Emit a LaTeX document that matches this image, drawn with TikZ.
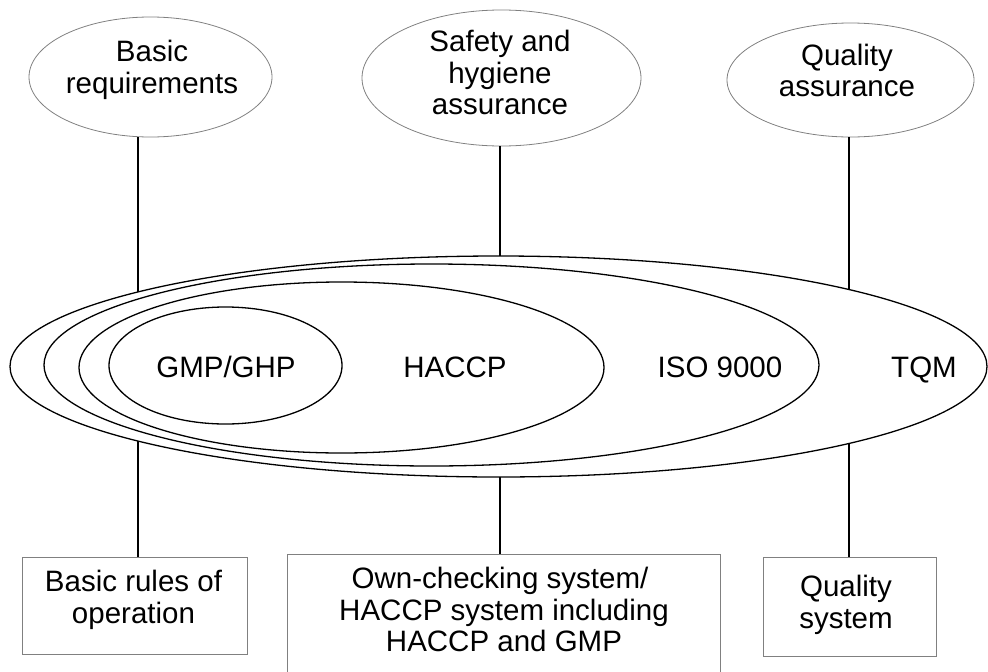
\documentclass[tikz,border=0pt]{standalone}
\usepackage{fontspec}
\setmainfont{Liberation Sans}
\usetikzlibrary{shapes.geometric}
\definecolor{bordergray}{HTML}{808080}
\tikzset{
  topell/.style={ellipse, draw=bordergray, line width=0.8pt, inner sep=0pt},
  bigell/.style={ellipse, draw=black, line width=1.3pt, inner sep=0pt},
  sbox/.style={rectangle, draw=bordergray, line width=0.8pt, inner sep=0pt},
  lbl/.style={font=\fontsize{29.5}{31.5}\selectfont, align=center, inner sep=0pt, text=black},
  conn/.style={line width=1.2pt, black}
}
\begin{document}
\begin{tikzpicture}[x=1pt, y=-1pt]
\useasboundingbox (0,0) rectangle (988,672);
% big nested ellipses
\node[bigell, minimum width=977pt, minimum height=221pt] (tqm) at (498.5,366.5) {};
\node[bigell, minimum width=775pt, minimum height=202pt] (iso) at (431.5,365) {};
\node[bigell, minimum width=525pt, minimum height=171pt] (haccp) at (341.5,367.5) {};
\node[bigell, minimum width=233pt, minimum height=117pt] (gmp) at (225.5,365.5) {};
\node[lbl, anchor=base] (gmpt) at (226,377) {GMP/GHP};
\node[lbl, anchor=base] (haccpt) at (455,377) {HACCP};
\node[lbl, anchor=base] (isot) at (720,377) {ISO 9000};
\node[lbl, anchor=base] (tqmt) at (924,377) {TQM};
% top ellipses
\node[topell, minimum width=243pt, minimum height=120pt] (e1) at (150.5,77) {};
\node[topell, minimum width=279pt, minimum height=136pt] (e2) at (501.5,78) {};
\node[topell, minimum width=247pt, minimum height=114pt] (e3) at (850.5,80) {};
\node[lbl] (e1t) at (152,69.9) {Basic\\requirements};
\node[lbl] (e2t) at (500,72.9) {Safety and\\hygiene\\assurance};
\node[lbl] (e3t) at (847,70.4) {Quality\\assurance};
% bottom boxes
\node[sbox, minimum width=225pt, minimum height=97pt] (b1box) at (134.5,605.5) {};
\node[sbox, minimum width=433pt, minimum height=146pt] (b2box) at (503.5,627) {};
\node[sbox, minimum width=173pt, minimum height=99pt] (b3box) at (849.5,606.5) {};
\node[lbl] (b1t) at (133.5,599.9) {Basic rules of\\operation};
\node[lbl] (b2t) at (504,609.9) {Own-checking system/\hspace*{8pt}\\HACCP system including\\HACCP and GMP};
\node[lbl] (b3t) at (846,604.9) {Quality\\system};
% connector end points on the outer ellipse
\coordinate (t1) at (138,292);
\coordinate (b1) at (138,441);
\coordinate (t2) at (500,256);
\coordinate (b2) at (500,477);
\coordinate (t3) at (849,289.5);
\coordinate (b3) at (849,443.5);
\draw[conn] (e1.south -| t1) -- (t1);
\draw[conn] (e2.south -| t2) -- (t2);
\draw[conn] (e3.south -| t3) -- (t3);
\draw[conn] (b1) -- (b1box.north -| b1);
\draw[conn] (b2) -- (b2box.north -| b2);
\draw[conn] (b3) -- (b3box.north -| b3);
\end{tikzpicture}
\end{document}
